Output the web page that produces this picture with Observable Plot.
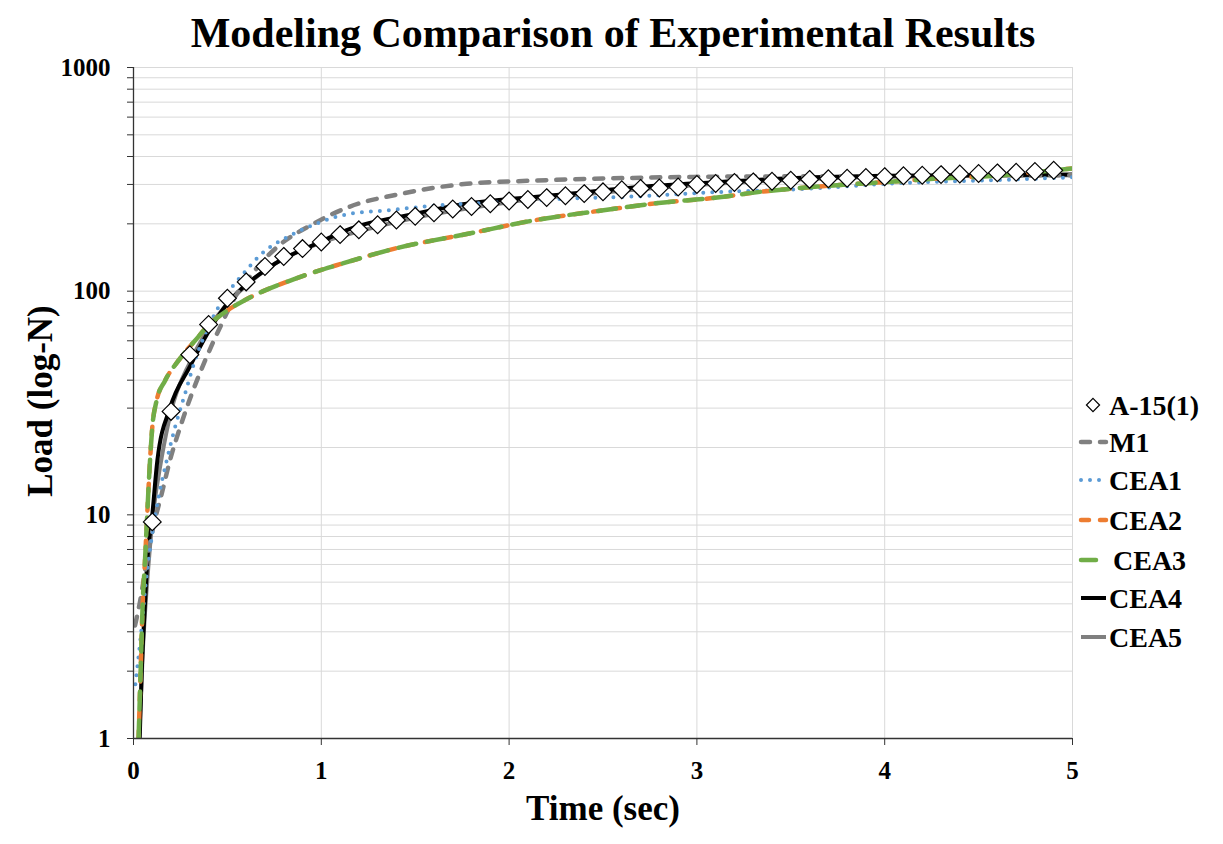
<!DOCTYPE html>
<html>
<head>
<meta charset="utf-8">
<script src="https://cdn.jsdelivr.net/npm/d3@7"></script>
<script src="https://cdn.jsdelivr.net/npm/@observablehq/plot@0.6"></script>
<style>
  body { margin: 0; background: #fff; }
  #wrap { position: relative; width: 1223px; height: 844px; font-family: "Liberation Serif", "Times New Roman", serif; }
  #overlay { position: absolute; left: 0; top: 0; pointer-events: none; }
</style>
</head>
<body>
<div id="wrap"></div>
<script>
// ---------- data ----------
const seriesNames = ["A-15(1)", "M1", "CEA1", "CEA2", "CEA3", "CEA4", "CEA5"];

const expTime = [0.1,0.2,0.3,0.4,0.5,0.6,0.7,0.8,0.9,1.0,1.1,1.2,1.3,1.4,1.5,1.6,1.7,1.8,1.9,2.0,
                 2.1,2.2,2.3,2.4,2.5,2.6,2.7,2.8,2.9,3.0,3.1,3.2,3.3,3.4,3.5,3.6,3.7,3.8,3.9,4.0,
                 4.1,4.2,4.3,4.4,4.5,4.6,4.7,4.8,4.9];
const expLoad = [9.3,29,52,71,93,110,129,143,155,166,179,188,198,208,216,224,233,239,246,253,
                 257,262,267,273,278,284,288,289,292,300,303,306,308,310,313,316,318,320,322,325,
                 328,330,332,334,336,338,340,343,347];

const m1Time = [0.008,0.035,0.07,0.105,0.15,0.194,0.248,0.31,0.381,0.461,0.55,0.603,0.674,0.763,0.958,1.153,1.42,1.774,2.13,2.66,3.1,4.0,5.0];
const m1Load = [3.2,4.1,6.2,8.8,12.4,17.5,24.6,34.7,48.9,69,97,111,132,157,200,239,272,302,312,321,325,327,330];

const cea1Time = [0.01,0.038,0.067,0.097,0.137,0.177,0.221,0.274,0.327,0.398,0.496,0.567,0.691,0.833,0.993,1.064,1.153,1.33,1.6,1.95,2.307,2.66,3.05,3.55,4.08,4.61,5.0];
const cea1Load = [1.75,2.84,5.1,7.9,12.4,17.5,24.6,34.7,48.9,69,97,115,149,177,203,213,222,229,241,250,259,265,276,286,304,314,323];

const cea23Time = [0.027,0.038,0.049,0.061,0.073,0.088,0.1,0.123,0.168,0.239,0.327,0.407,0.496,0.585,0.691,0.824,0.975,1.1,1.419,1.774,2.129,2.484,2.839,3.05,3.37,3.726,3.99,4.26,4.61,4.8,5.0];
const cea2Load = [1,2,4,6.2,10,17.5,24.6,32.4,39.8,48.9,60,71.4,81.6,90.4,100,110.7,122.6,132,157,180,207,229,250,259,280,297,307,318,329,340,354];
const cea3Load = [1,2,4,6.2,10,17.5,24.6,32.4,39.8,48.9,60,71.4,81.6,90.4,100,110.7,122.6,132,157,180,207,229,250,259,280,297,307,318,329,340,354];

const cea4Time = [0.033,0.044,0.061,0.073,0.1,0.127,0.194,0.3,0.4,0.5,0.6,0.7,0.8,0.9,1.0,1.153,1.5,1.774,2.0,2.307,2.66,3.1,3.5,4.0,5.0];
const cea4Load = [1,2,4,6.2,10,17.5,30,46,66,88,107,124,140,153,167,190,222,246,258,272,291,307,320,328,332];

const cea5Time = [0.03,0.05,0.08,0.1,0.15,0.2,0.3,0.4,0.5,0.6,0.7,0.8,0.9,1.0,1.2,1.5,1.8,2.0,2.5,3.0,3.5,4.0,5.0];
const cea5Load = [1,2.5,6,9.3,18,29,48,68,88,106,124,140,153,165,185,213,236,250,276,298,315,325,330];

const xTicks = [0,1,2,3,4,5];
const yTicks = [1,10,100,1000];
const yMinor = [2,3,4,5,6,7,8,9,20,30,40,50,60,70,80,90,200,300,400,500,600,700,800,900];

const titleText = "Modeling Comparison of Experimental Results";
const xTitle = "Time (sec)";
const yTitle = "Load (log-N)";

// ---------- styles (separate from data) ----------
const styles = {
  "M1":   {color: "#808080", width: 4.5, dash: "9,10", cap: "round"},
  "CEA1": {color: "#5B9BD5", width: 4,   dash: "0,9",  cap: "round"},
  "CEA2": {color: "#ED7D31", width: 4.5, dash: "8,11", cap: "round"},
  "CEA3": {color: "#70AD47", width: 4.5, dash: "18,11", cap: "round"},
  "CEA4": {color: "#000000", width: 4,   dash: null,   cap: "butt"},
  "CEA5": {color: "#7F7F7F", width: 4,   dash: null,   cap: "butt"}
};

const modelData = {
  "M1": [m1Time, m1Load],
  "CEA1": [cea1Time, cea1Load],
  "CEA2": [cea23Time, cea2Load],
  "CEA3": [cea23Time, cea3Load],
  "CEA4": [cea4Time, cea4Load],
  "CEA5": [cea5Time, cea5Load]
};
const rows = name => modelData[name][0].map((t, i) => ({t, v: modelData[name][1][i]}));
const expRows = expTime.map((t, i) => ({t, v: expLoad[i]}));

const W = 1223, H = 844;
const lineOrder = ["CEA5", "CEA4", "M1", "CEA1", "CEA2", "CEA3"];

const chart = Plot.plot({
  width: W, height: H,
  marginLeft: 133, marginRight: 151, marginTop: 67, marginBottom: 106,
  style: {fontFamily: "'Liberation Serif', 'Times New Roman', serif", fontWeight: "bold", fontSize: "25px", color: "#000", background: "#fff"},
  x: {domain: [0, 5], label: null},
  y: {type: "log", domain: [1, 1000], label: null},
  marks: [
    Plot.gridY(yTicks.concat(yMinor), {stroke: "#d9d9d9", strokeOpacity: 1, strokeWidth: 1}),
    Plot.gridX(xTicks.slice(1), {stroke: "#d9d9d9", strokeOpacity: 1, strokeWidth: 1}),
    Plot.axisY(yMinor, {tickSize: 6, tickFormat: () => "", label: null, stroke: "#333"}),
    Plot.axisY(yTicks, {tickSize: 6, tickPadding: 17, tickFormat: d => String(d), label: null,
      stroke: "#333", fill: "#000", fontSize: 25, fontWeight: "bold"}),
    Plot.axisX(xTicks, {tickSize: 7, tickPadding: 16, tickFormat: d => String(d), label: null,
      stroke: "#333", fill: "#000", fontSize: 25, fontWeight: "bold"}),
    ...lineOrder.map(name => Plot.line(rows(name), {
      x: "t", y: "v", curve: "monotone-x", clip: true,
      stroke: styles[name].color, strokeWidth: styles[name].width,
      strokeDasharray: styles[name].dash, strokeLinecap: styles[name].cap, strokeLinejoin: "round"
    })),
    Plot.dot(expRows, {x: "t", y: "v", symbol: "diamond2", r: 8, fill: "#fff", stroke: "#000", strokeWidth: 1.2}),
    Plot.ruleX([0], {stroke: "#333", strokeWidth: 1.3}),
    Plot.ruleY([1], {stroke: "#333", strokeWidth: 1.3})
  ]
});

const wrap = document.getElementById("wrap");
wrap.appendChild(chart);

// enforce tick-label font
d3.select(chart).selectAll('g[aria-label$="tick label"]')
  .attr("font-size", 25).style("font-size", "25px")
  .selectAll("text").style("font-size", "25px").style("font-weight", "bold").style("fill", "#000");

// ---------- overlay: title, axis titles, legend ----------
const svg = d3.select(wrap).append("svg").attr("id", "overlay")
  .attr("width", W).attr("height", H)
  .style("font-family", "'Liberation Serif', 'Times New Roman', serif")
  .style("font-weight", "bold");

svg.append("text").attr("x", 613).attr("y", 47).attr("text-anchor", "middle")
  .attr("font-size", 42).attr("fill", "#000").text(titleText);
svg.append("text").attr("x", 603).attr("y", 820).attr("text-anchor", "middle")
  .attr("font-size", 35).attr("fill", "#000").text(xTitle);
svg.append("text").attr("transform", "translate(52,401) rotate(-90)").attr("text-anchor", "middle")
  .attr("font-size", 35).attr("fill", "#000").text(yTitle);

const legendY = [405, 442, 480, 520, 560, 598, 637];
const lg = svg.append("g");
seriesNames.forEach((name, i) => {
  const cy = legendY[i];
  if (name === "A-15(1)") {
    lg.append("path").attr("d", d3.symbol(d3.symbolDiamond2, 110)())
      .attr("transform", `translate(1093,${cy})`)
      .attr("fill", "#fff").attr("stroke", "#000").attr("stroke-width", 1.2);
  } else {
    const s = styles[name];
    const x2 = name === "CEA3" ? 1096 : 1106;
    lg.append("line").attr("x1", 1081).attr("x2", x2).attr("y1", cy).attr("y2", cy)
      .attr("stroke", s.color).attr("stroke-width", s.width)
      .attr("stroke-dasharray", name === "CEA3" ? null : s.dash)
      .attr("stroke-linecap", s.cap);
  }
  lg.append("text").attr("x", name === "CEA3" ? 1113 : 1109).attr("y", cy + 10)
    .attr("font-size", 28).attr("fill", "#000").text(name);
});
</script>
</body>
</html>
